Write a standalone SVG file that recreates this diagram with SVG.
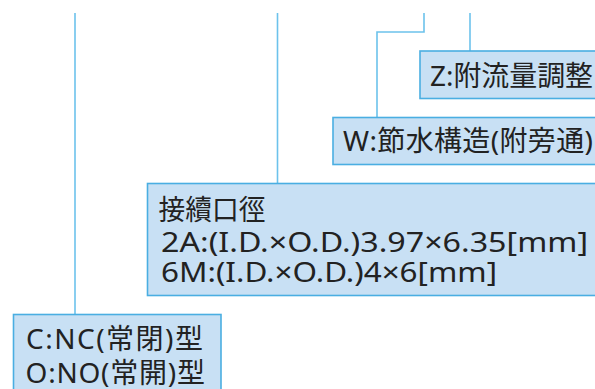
<svg xmlns="http://www.w3.org/2000/svg" width="595" height="389" viewBox="0 0 595 389">
<style>
.box{fill:#c8e0f4;stroke:#4aaee2;stroke-width:1.6}
.ln{fill:none;stroke:#6cc2ec;stroke-width:1.6}
.t{font-family:"Noto Sans","Noto Sans CJK JP",sans-serif;font-size:28px;fill:#222222}
</style>
<rect width="595" height="389" fill="#ffffff"/>
<g id="connectors">
<line class="ln" x1="75" y1="13" x2="75" y2="314"/>
<line class="ln" x1="277.5" y1="13" x2="277.5" y2="183"/>
<polyline class="ln" points="424,13 424,32 377,32 377,117"/>
<line class="ln" x1="470" y1="13" x2="470" y2="51"/>
</g>
<g id="node-z">
<rect class="box" x="420" y="51" width="190" height="47.5"/>
<text class="t" x="430" y="85.5" textLength="163" lengthAdjust="spacingAndGlyphs">Z:附流量調整</text>
</g>
<g id="node-w">
<rect class="box" x="333" y="117.5" width="280" height="47"/>
<text class="t" x="343" y="151" textLength="250" lengthAdjust="spacing">W:節水構造(附旁通)</text>
</g>
<g id="node-port">
<rect class="box" x="147.5" y="183.5" width="460" height="112"/>
<text class="t"><tspan x="158.5" y="219.5" textLength="107" lengthAdjust="spacingAndGlyphs">接續口徑</tspan><tspan x="161" y="251.5" textLength="427" lengthAdjust="spacingAndGlyphs">2A:(I.D.×O.D.)3.97×6.35[mm]</tspan><tspan x="161" y="281.5" textLength="336" lengthAdjust="spacingAndGlyphs">6M:(I.D.×O.D.)4×6[mm]</tspan></text>
</g>
<g id="node-type">
<rect class="box" x="13.5" y="314.5" width="207.5" height="90"/>
<text class="t"><tspan x="26" y="349" textLength="177" lengthAdjust="spacing">C:NC(常閉)型</tspan><tspan x="25.5" y="383" textLength="179.5" lengthAdjust="spacing">O:NO(常開)型</tspan></text>
</g>
</svg>
